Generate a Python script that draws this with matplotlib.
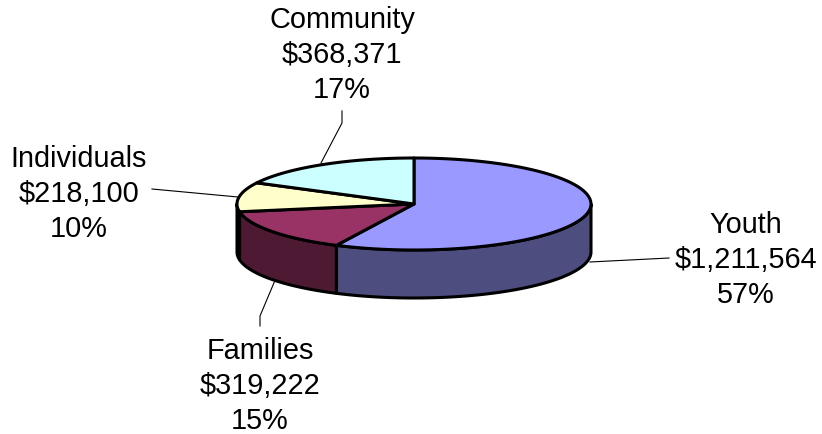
import numpy as np
import matplotlib
matplotlib.use('Agg')
import matplotlib.pyplot as plt
from matplotlib.patches import Polygon

categories = ['Youth', 'Families', 'Individuals', 'Community']
amounts = [1211564, 319222, 218100, 368371]
percents = ['57%', '15%', '10%', '17%']
top_colors = ['#9999FF', '#993366', '#FFFFCC', '#CCFFFF']
side_colors = ['#4D4D80', '#4D1933', '#101008']

label_pos = [(746, 260), (260, 386), (79, 194), (342, 55)]
leaders = [
    [(590, 263), (669, 259)],
    [(260, 327), (260, 317), (276, 279)],
    [(152, 190), (238, 198)],
    [(342, 112), (342, 124), (321, 164)],
]

cx, cy = 414, 205
rx, ry = 177, 46
depth = 48

plt.rcParams['font.family'] = ['Liberation Sans', 'DejaVu Sans']


def ell(deg):
    # clockwise from the top of the ellipse
    r = np.radians(deg)
    return cx + rx * np.sin(r), cy - ry * np.cos(r)


fig = plt.figure(figsize=(8.22, 4.35), dpi=100)
ax = fig.add_axes([0, 0, 1, 1])
ax.set_xlim(0, 822)
ax.set_ylim(435, 0)
ax.axis('off')

for pts in leaders:
    xs, ys = zip(*pts)
    ax.plot(xs, ys, color='black', lw=0.8, zorder=1)

total = sum(amounts)
edges = np.concatenate([[0], np.cumsum(amounts) / total * 360])

# outer wall, only the part that faces the viewer
for i in range(len(side_colors)):
    a0 = max(edges[i], 90)
    a1 = min(edges[i + 1], 270)
    t = np.linspace(a0, a1, 80)
    x, y = ell(t)
    wall = np.column_stack([np.r_[x, x[::-1]], np.r_[y, y[::-1] + depth]])
    ax.add_patch(Polygon(wall, closed=True, fc=side_colors[i], ec='black', lw=2.2,
                         joinstyle='round', zorder=2))

for i in range(len(amounts)):
    t = np.linspace(edges[i], edges[i + 1], 80)
    x, y = ell(t)
    top = np.column_stack([np.r_[cx, x], np.r_[cy, y]])
    ax.add_patch(Polygon(top, closed=True, fc=top_colors[i], ec='black', lw=2.2,
                         joinstyle='round', zorder=3))

for i, name in enumerate(categories):
    txt = f'{name}\n${amounts[i]:,}\n{percents[i]}'
    ax.text(label_pos[i][0], label_pos[i][1], txt, ha='center', va='center',
            fontsize=20.8, linespacing=1.33, color='black', zorder=4)

fig.savefig('out.png', dpi=100)
